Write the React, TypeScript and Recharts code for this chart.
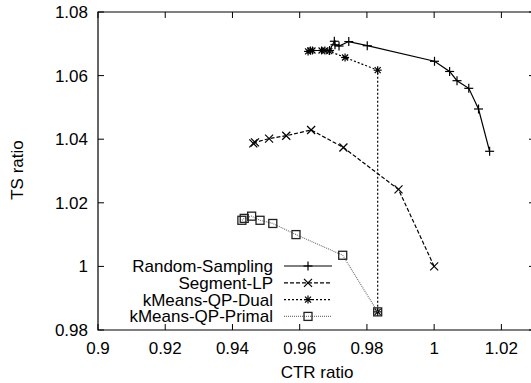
import React from 'react';
import { ScatterChart, Scatter, XAxis, YAxis, ReferenceArea, Legend, Label } from 'recharts';

// CTR ratio / TS ratio
const rsCtr = [0.9689, 0.9703, 0.9705, 0.9717, 0.9746, 0.9801, 1.0001, 1.0046, 1.0068, 1.0103, 1.0132, 1.0165];
const rsTs = [1.0679, 1.0708, 1.0697, 1.0693, 1.0707, 1.0694, 1.0645, 1.0613, 1.0584, 1.056, 1.0495, 1.0362];

const lpCtr = [0.9462, 0.9467, 0.9509, 0.956, 0.9634, 0.973, 0.9894, 1.0];
const lpTs = [1.0387, 1.039, 1.0402, 1.0411, 1.0429, 1.0374, 1.0242, 1.0];

const dualCtr = [0.9625, 0.9632, 0.9638, 0.9665, 0.9675, 0.9688, 0.9735, 0.9832, 0.9832];
const dualTs = [1.0676, 1.0679, 1.0679, 1.0679, 1.0679, 1.0677, 1.0657, 1.0617, 0.9857];

const primalCtr = [0.9428, 0.9435, 0.9457, 0.9482, 0.952, 0.9589, 0.9728, 0.9832];
const primalTs = [1.0145, 1.0151, 1.0158, 1.0145, 1.0135, 1.01, 1.0035, 0.9857];

const xTicks = [0.9, 0.92, 0.94, 0.96, 0.98, 1, 1.02];
const yTicks = [0.98, 1, 1.02, 1.04, 1.06, 1.08];

const seriesNames = ['Random-Sampling', 'Segment-LP', 'kMeans-QP-Dual', 'kMeans-QP-Primal'];

const zip = (xs: number[], ys: number[]) => xs.map((x, i) => ({ x, y: ys[i] }));

const FONT = '"Liberation Sans", Arial, Helvetica, sans-serif';
const PLOT_W = 437;
const PLOT_H = 318;

const Plus = ({ cx, cy }: any) => (
  <g stroke="#000" strokeWidth={1.2}>
    <line x1={cx - 4.5} x2={cx + 4.5} y1={cy} y2={cy} />
    <line x1={cx} x2={cx} y1={cy - 4.5} y2={cy + 4.5} />
  </g>
);

const Cross = ({ cx, cy }: any) => (
  <g stroke="#000" strokeWidth={1.2}>
    <line x1={cx - 4} x2={cx + 4} y1={cy - 4} y2={cy + 4} />
    <line x1={cx - 4} x2={cx + 4} y1={cy + 4} y2={cy - 4} />
  </g>
);

const Star = ({ cx, cy }: any) => (
  <g stroke="#000" strokeWidth={1.2}>
    <line x1={cx - 4} x2={cx + 4} y1={cy} y2={cy} />
    <line x1={cx} x2={cx} y1={cy - 4} y2={cy + 4} />
    <line x1={cx - 3} x2={cx + 3} y1={cy - 3} y2={cy + 3} />
    <line x1={cx - 3} x2={cx + 3} y1={cy + 3} y2={cy - 3} />
  </g>
);

const Box = ({ cx, cy }: any) => (
  <rect x={cx - 4} y={cy - 4} width={8} height={8} fill="none" stroke="#222" strokeWidth={1.3} />
);

const fmt = (v: number) => String(Number(v.toFixed(2)));

const XTick = ({ x, y, payload }: any) => (
  <g>
    <line x1={x} x2={x} y1={y} y2={y - 6} stroke="#000" />
    <line x1={x} x2={x} y1={y - PLOT_H} y2={y - PLOT_H + 6} stroke="#000" />
    <text x={x} y={y + 24} textAnchor="middle" fontSize={17} fontFamily={FONT} fill="#000">
      {fmt(payload.value)}
    </text>
  </g>
);

const YTick = ({ x, y, payload }: any) => (
  <g>
    <line x1={x} x2={x + 6} y1={y} y2={y} stroke="#000" />
    <line x1={x + PLOT_W - 6} x2={x + PLOT_W} y1={y} y2={y} stroke="#000" />
    <text x={x - 10} y={y + 6} textAnchor="end" fontSize={17} fontFamily={FONT} fill="#000">
      {fmt(payload.value)}
    </text>
  </g>
);

const styles = [
  { dash: undefined, color: '#000', Mark: Plus },
  { dash: '4 2', color: '#000', Mark: Cross },
  { dash: '2 2', color: '#000', Mark: Star },
  { dash: '1 1', color: '#777', Mark: Box },
];

const LegendBox = () => (
  <svg width={220} height={72}>
    {seriesNames.map((name, i) => {
      const y = 11 + i * 16.8;
      const { dash, color, Mark } = styles[i];
      return (
        <g key={name}>
          <text x={153} y={y + 6} textAnchor="end" fontSize={17} fontFamily={FONT} fill="#000">
            {name}
          </text>
          <line x1={164} x2={212} y1={y} y2={y} stroke={color} strokeWidth={1.2} strokeDasharray={dash} />
          <Mark cx={188} cy={y} />
        </g>
      );
    })}
  </svg>
);

export default function App() {
  const sets = [zip(rsCtr, rsTs), zip(lpCtr, lpTs), zip(dualCtr, dualTs), zip(primalCtr, primalTs)];
  return (
    <div style={{ position: 'fixed', top: 0, left: 0, width: 531, height: 383, overflow: 'hidden', background: '#fff' }}>
      <ScatterChart width={560} height={383} margin={{ top: 12, left: 97, right: 25, bottom: 52 }}>
        <XAxis
          type="number"
          dataKey="x"
          domain={[0.9, 1.03]}
          ticks={xTicks}
          height={1}
          tickSize={0}
          tickMargin={0}
          tickLine={false}
          axisLine={false}
          tick={<XTick />}
          allowDataOverflow
        >
          <Label
            content={() => (
              <text x={317} y={378} textAnchor="middle" fontSize={17} fontFamily={FONT} fill="#000">
                CTR ratio
              </text>
            )}
          />
        </XAxis>
        <YAxis
          type="number"
          dataKey="y"
          domain={[0.98, 1.08]}
          ticks={yTicks}
          width={1}
          tickSize={0}
          tickMargin={0}
          tickLine={false}
          axisLine={false}
          tick={<YTick />}
          allowDataOverflow
        >
          <Label
            content={() => (
              <text
                x={23}
                y={170}
                transform="rotate(-90 23 170)"
                textAnchor="middle"
                fontSize={17}
                fontFamily={FONT}
                fill="#000"
              >
                TS ratio
              </text>
            )}
          />
        </YAxis>
        <ReferenceArea x1={0.9} x2={1.03} y1={0.98} y2={1.08} fill="none" stroke="#000" strokeWidth={1.2} />
        {sets.map((data, i) => {
          const { dash, color, Mark } = styles[i];
          return (
            <Scatter
              key={seriesNames[i]}
              name={seriesNames[i]}
              data={data}
              line={{ stroke: color, strokeWidth: 1.2, strokeDasharray: dash }}
              lineType="joint"
              shape={(p: any) => <Mark cx={p.cx} cy={p.cy} />}
              isAnimationActive={false}
            />
          );
        })}
        <Legend
          layout="vertical"
          align="center"
          verticalAlign="middle"
          wrapperStyle={{ position: 'absolute', left: 120, top: 255, width: 220, height: 72 }}
          content={() => <LegendBox />}
        />
      </ScatterChart>
    </div>
  );
}
